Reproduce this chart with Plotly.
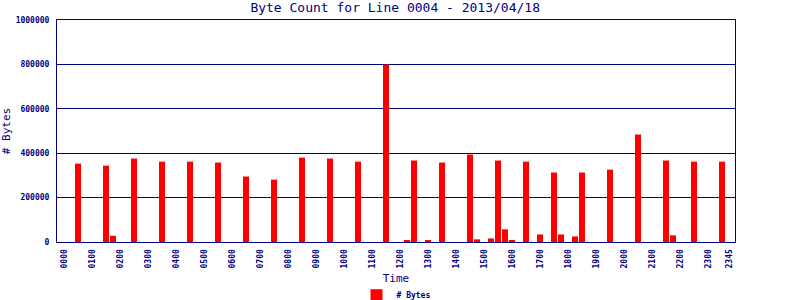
import plotly.graph_objects as go

# Data: 15-minute time slots (HHMM) and byte counts (non-zero slots only)
times = ["0030", "0130", "0145", "0230", "0330", "0430", "0530", "0630", "0730",
         "0830", "0930", "1030", "1130", "1215", "1230", "1300", "1330", "1430",
         "1445", "1515", "1530", "1545", "1600", "1630", "1700", "1730", "1745",
         "1815", "1830", "1930", "2030", "2130", "2145", "2230", "2330"]
byte_counts = [353000, 344000, 28000, 376000, 362000, 362000, 358000, 295000, 281000,
               380000, 376000, 362000, 800000, 7000, 367000, 6000, 358000, 394000,
               12000, 16000, 367000, 57000, 7000, 362000, 34000, 313000, 34000,
               25000, 313000, 326000, 484000, 367000, 30000, 362000, 362000]
tick_labels = ["0000", "0100", "0200", "0300", "0400", "0500", "0600", "0700",
               "0800", "0900", "1000", "1100", "1200", "1300", "1400", "1500",
               "1600", "1700", "1800", "1900", "2000", "2100", "2200", "2300", "2345"]
y_ticks = [0, 200000, 400000, 600000, 800000, 1000000]


def slot(t):
    return (int(t[:2]) * 60 + int(t[2:])) / 15


NAVY = "#000080"
MONO = "DejaVu Sans Mono"

fig = go.Figure()
fig.add_trace(go.Bar(
    x=[slot(t) for t in times],
    y=byte_counts,
    name="# Bytes",
    marker=dict(color="#FF0000", line=dict(width=0)),
    width=6 / 7,
    showlegend=True,
))

fig.update_layout(
    width=800, height=300,
    margin=dict(l=57, r=65, t=20, b=58, autoexpand=False),
    paper_bgcolor="white", plot_bgcolor="white",
    title=dict(text="Byte Count for Line 0004 - 2013/04/18",
               x=0.494, xanchor="center", y=0.99, yanchor="top",
               font=dict(family=MONO, size=13, color=NAVY)),
    showlegend=True,
    legend=dict(orientation="h", x=0.5, xanchor="center", y=-0.24, yanchor="middle",
                font=dict(family=MONO, size=8, color=NAVY, weight="bold"),
                bgcolor="rgba(0,0,0,0)", itemwidth=30),
    xaxis=dict(
        range=[-1, 95.86],
        automargin=False,
        tickmode="array",
        tickvals=[slot(t) for t in tick_labels],
        ticktext=tick_labels,
        tickangle=-90,
        tickfont=dict(family=MONO, size=8, color=NAVY, weight="bold"),
        showgrid=False, zeroline=False,
        showline=True, linecolor=NAVY, linewidth=1, mirror=True,
        ticks="", ticklabelstandoff=3,
        title=dict(text="Time", font=dict(family=MONO, size=11, color=NAVY), standoff=6),
    ),
    yaxis=dict(
        range=[0, 1000000],
        automargin=False,
        tickmode="array",
        tickvals=y_ticks,
        ticktext=[str(v) for v in y_ticks],
        tickfont=dict(family=MONO, size=8, color=NAVY, weight="bold"),
        showgrid=True, gridcolor=NAVY, gridwidth=1,
        zeroline=False,
        showline=True, linecolor=NAVY, linewidth=1, mirror=True,
        ticks="", ticklabelstandoff=5,
        title=dict(text="# Bytes", font=dict(family=MONO, size=11, color=NAVY), standoff=8),
    ),
)

fig.write_html("out.html")
